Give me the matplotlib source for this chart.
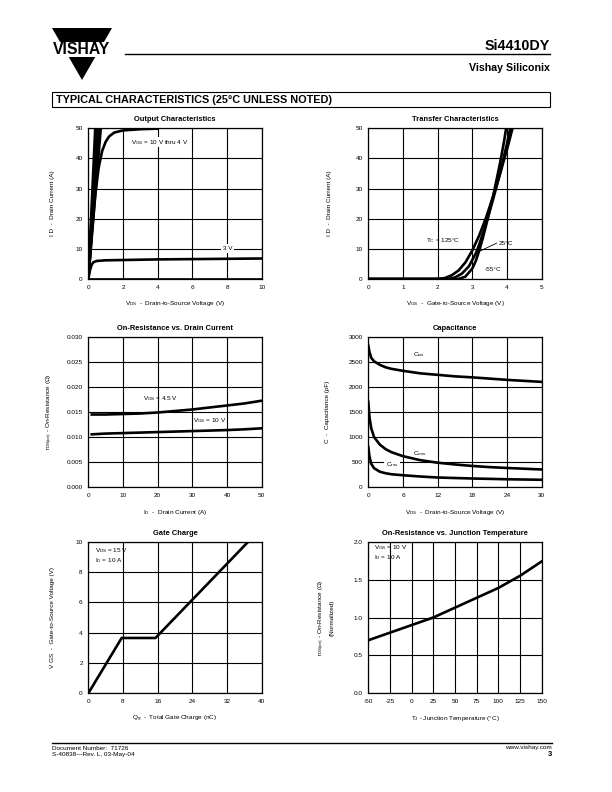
import matplotlib
matplotlib.use("Agg")
import matplotlib.pyplot as plt
from matplotlib import font_manager
from matplotlib.patches import Polygon, Rectangle

# ---------------- data ----------------
# Output characteristics
out_steep_x = [[0, 0.40], [0, 0.48], [0, 0.56], [0, 0.64], [0, 0.72]]
out_steep_y = [[0, 50], [0, 50], [0, 50], [0, 50], [0, 50]]
out_4v_x = [0, 0.2, 0.4, 0.6, 0.8, 1.0, 1.2, 1.5, 2.0, 3.0, 4.0]
out_4v_y = [0, 15, 28, 37, 42.5, 45.5, 47.3, 48.6, 49.3, 49.7, 49.9]
out_3v_x = [0, 0.1, 0.2, 0.3, 0.5, 1, 2, 4, 6, 8, 10]
out_3v_y = [0, 3.0, 4.8, 5.6, 6.0, 6.2, 6.3, 6.5, 6.6, 6.7, 6.8]
out_2v_x = [0, 10]
out_2v_y = [0.1, 0.1]

# Transfer characteristics
tr_125_x = [0, 2.0, 2.2, 2.4, 2.6, 2.8, 3.0, 3.2, 3.4, 3.6, 3.8, 4.0, 4.17]
tr_125_y = [0, 0, 0.3, 1.2, 2.8, 5.5, 9.5, 14.5, 20.5, 27.5, 35, 43, 50.5]
tr_25_x = [0, 2.3, 2.5, 2.7, 2.9, 3.1, 3.2, 3.4, 3.6, 3.8, 4.0, 4.1]
tr_25_y = [0, 0, 0.5, 1.8, 4.2, 8.5, 11.5, 18.5, 26.5, 35, 45, 50.5]
tr_m55_x = [0, 2.6, 2.8, 3.0, 3.1, 3.2, 3.3, 3.4, 3.6, 3.8, 3.92, 3.98]
tr_m55_y = [0, 0, 0.8, 3.5, 6.0, 9.5, 13.5, 18, 27.5, 38.5, 46, 50.5]

# On-resistance vs drain current
rd_x = [1, 5, 10, 15, 20, 25, 30, 35, 40, 45, 50]
rd_45 = [0.0145, 0.0145, 0.0146, 0.0147, 0.0149, 0.0152, 0.0155, 0.0159, 0.0163, 0.0167, 0.01725]
rd_10 = [0.01055, 0.0107, 0.0108, 0.0109, 0.0110, 0.0111, 0.0112, 0.0113, 0.0114, 0.01155, 0.01175]

# Capacitance
cap_v = [0, 0.2, 0.5, 1, 2, 3, 4, 6, 9, 12, 15, 18, 21, 24, 27, 30]
cap_ciss = [2820, 2700, 2580, 2510, 2440, 2390, 2360, 2320, 2270, 2240, 2210, 2190, 2165, 2140, 2120, 2100]
cap_coss = [1700, 1400, 1180, 1000, 850, 760, 700, 620, 540, 490, 455, 425, 402, 385, 370, 355]
cap_crss = [800, 620, 470, 380, 310, 280, 260, 240, 215, 195, 185, 175, 168, 160, 155, 150]

# Gate charge
gc_q = [0, 7.7, 15.5, 36.9]
gc_v = [0, 3.65, 3.65, 10]

# On-resistance vs junction temperature
tj_t = [-50, -25, 0, 25, 50, 75, 100, 125, 150]
tj_r = [0.70, 0.80, 0.90, 1.00, 1.13, 1.26, 1.39, 1.55, 1.74]

# ---------------- style ----------------
plt.rcParams['font.family'] = ['Liberation Sans', 'DejaVu Sans']
plt.rcParams['mathtext.fontset'] = 'custom'
plt.rcParams['mathtext.rm'] = 'Liberation Sans'
plt.rcParams['mathtext.it'] = 'Liberation Sans:italic'
plt.rcParams['mathtext.bf'] = 'Liberation Sans:bold'

try:
    font_manager.findfont(font_manager.FontProperties(family='Liberation Sans Narrow', weight='bold'),
                          fallback_to_default=False)
    NARROW = True
except Exception:
    NARROW = False
HFAM = 'Liberation Sans Narrow' if NARROW else 'Liberation Sans'
HSCALE = 1.0 if NARROW else 0.82

W, H = 612, 792
fig = plt.figure(figsize=(6.12, 7.92), dpi=100)

bg = fig.add_axes([0, 0, 1, 1])
bg.set_xlim(0, W)
bg.set_ylim(H, 0)
bg.axis('off')

RIGHT = 550

# logo
bg.add_patch(Polygon([[52, 28], [112, 28], [82, 80]], closed=True, color='black', lw=0))
bg.add_patch(Rectangle((50, 42), 64, 15, color='white', lw=0))
bg.text(82, 50, 'VISHAY', fontsize=11.3, fontweight='bold', ha='center', va='center')
bg.plot([125, RIGHT], [54, 54], color='black', lw=1.0)
bg.text(RIGHT, 49.5, 'Si4410DY', fontsize=12.5 * HSCALE, fontweight='bold', family=HFAM,
        ha='right', va='baseline')
bg.text(RIGHT, 71, 'Vishay Siliconix', fontsize=9.3 * HSCALE, fontweight='bold', family=HFAM,
        ha='right', va='baseline')
bg.add_patch(Rectangle((52, 92), RIGHT - 52, 15, fill=False, ec='black', lw=0.8))
bg.text(56, 99.8, 'TYPICAL CHARACTERISTICS (25°C UNLESS NOTED)', fontsize=7.8,
        fontweight='heavy', ha='left', va='center')
# footer
bg.plot([52, RIGHT + 2], [743, 743], color='black', lw=1.0)
bg.text(52, 748, 'Document Number:  71726', fontsize=4.6, ha='left', va='center')
bg.text(52, 754.5, 'S-40838—Rev. L, 03-May-04', fontsize=4.6, ha='left', va='center')
bg.text(RIGHT + 2, 748, 'www.vishay.com', fontsize=4.6, ha='right', va='center')
bg.text(RIGHT + 2, 755, '3', fontsize=5.5, fontweight='bold', ha='right', va='center')

L1, R1, L2, R2 = 88.3, 261.7, 368.3, 541.7
rows = [(128.3, 279.0), (336.7, 487.3), (541.7, 693.3)]


def ax_at(l, r, t, b):
    return fig.add_axes([l / W, 1 - b / H, (r - l) / W, (b - t) / H])


def style(ax, xlim, ylim, xticks, yticks, xlabels, ylabels, title, xlabel, ylabel, ylx):
    ax.set_xlim(xlim)
    ax.set_ylim(ylim)
    ax.set_xticks(xticks)
    ax.set_yticks(yticks)
    ax.set_xticklabels(xlabels)
    ax.set_yticklabels(ylabels)
    ax.grid(True, color='black', lw=0.8)
    ax.set_axisbelow(True)
    ax.tick_params(length=0, labelsize=4.6, pad=4)
    for s in ax.spines.values():
        s.set_linewidth(0.9)
    ax.set_title(title, fontsize=5.4, fontweight='bold', pad=5)
    ax.set_xlabel(xlabel, fontsize=4.6)
    ax.set_ylabel(ylabel, fontsize=4.6, linespacing=1.6)
    h = ax.get_position().height * H
    w = ax.get_position().width * W
    ax.xaxis.set_label_coords(0.5, -20.5 / h)
    ax.yaxis.set_label_coords(ylx / w, 0.5)


LW = 1.9
wbox = dict(facecolor='white', edgecolor='none', pad=0.6)

# 1. Output characteristics
ax1 = ax_at(L1, R1, *rows[0])
for xs, ys in zip(out_steep_x, out_steep_y):
    ax1.plot(xs, ys, color='black', lw=LW)
ax1.plot(out_4v_x, out_4v_y, color='black', lw=LW)
ax1.plot(out_3v_x, out_3v_y, color='black', lw=LW)
ax1.plot(out_2v_x, out_2v_y, color='black', lw=LW)
style(ax1, (0, 10), (0, 50), [0, 2, 4, 6, 8, 10], [0, 10, 20, 30, 40, 50],
      ['0', '2', '4', '6', '8', '10'], ['0', '10', '20', '30', '40', '50'],
      'Output Characteristics', r'V$_{\mathrm{DS}}$  -  Drain-to-Source Voltage (V)',
      r'I D  -  Drain Current (A)', -33)
ax1.text(2.45, 45.4, r'V$_{\mathrm{GS}}$ = 10 V thru 4 V', fontsize=4.6, va='center', bbox=wbox)
ax1.text(7.75, 10.2, '3 V', fontsize=4.6, va='center', bbox=dict(facecolor='white', edgecolor='none', pad=1.5))

# 2. Transfer characteristics
ax2 = ax_at(L2, R2, *rows[0])
ax2.plot(tr_125_x, tr_125_y, color='black', lw=LW)
ax2.plot(tr_25_x, tr_25_y, color='black', lw=LW)
ax2.plot(tr_m55_x, tr_m55_y, color='black', lw=LW)
style(ax2, (0, 5), (0, 50), [0, 1, 2, 3, 4, 5], [0, 10, 20, 30, 40, 50],
      ['0', '1', '2', '3', '4', '5'], ['0', '10', '20', '30', '40', '50'],
      'Transfer Characteristics', r'V$_{\mathrm{GS}}$  -  Gate-to-Source Voltage (V)',
      r'I D  -  Drain Current (A)', -36.5)
ax2.text(2.65, 12.7, r'T$_{\mathrm{C}}$ = 125°C', fontsize=4.6, va='center', ha='right')
ax2.plot([3.7, 3.17], [11.9, 9.0], color='black', lw=0.6)
ax2.text(3.76, 11.8, '25°C', fontsize=4.6, va='center', ha='left')
ax2.text(3.37, 3.2, '-55°C', fontsize=4.6, va='center', ha='left')

# 3. On-resistance vs drain current
ax3 = ax_at(L1, R1, *rows[1])
ax3.plot(rd_x, rd_45, color='black', lw=LW)
ax3.plot(rd_x, rd_10, color='black', lw=LW)
style(ax3, (0, 50), (0, 0.030), [0, 10, 20, 30, 40, 50],
      [0, 0.005, 0.010, 0.015, 0.020, 0.025, 0.030],
      ['0', '10', '20', '30', '40', '50'],
      ['0.000', '0.005', '0.010', '0.015', '0.020', '0.025', '0.030'],
      'On-Resistance vs. Drain Current', r'I$_{\mathrm{D}}$  -  Drain Current (A)',
      r'r$_{\mathrm{DS(on)}}$ - On-Resistance (Ω)', -33)
ax3.text(15.7, 0.0176, r'V$_{\mathrm{GS}}$ = 4.5 V', fontsize=4.6, va='center', ha='left')
ax3.text(30.3, 0.0132, r'V$_{\mathrm{GS}}$ = 10 V', fontsize=4.6, va='center', ha='left')

# 4. Capacitance
ax4 = ax_at(L2, R2, *rows[1])
ax4.plot(cap_v, cap_ciss, color='black', lw=LW)
ax4.plot(cap_v, cap_coss, color='black', lw=LW)
ax4.plot(cap_v, cap_crss, color='black', lw=LW)
style(ax4, (0, 30), (0, 3000), [0, 6, 12, 18, 24, 30], [0, 500, 1000, 1500, 2000, 2500, 3000],
      ['0', '6', '12', '18', '24', '30'], ['0', '500', '1000', '1500', '2000', '2500', '3000'],
      'Capacitance', r'V$_{\mathrm{DS}}$  -  Drain-to-Source Voltage (V)',
      r'C  -  Capacitance (pF)', -38)
ax4.text(7.8, 2640, r'C$_{\mathrm{iss}}$', fontsize=4.6, va='center', ha='left')
ax4.text(7.8, 680, r'C$_{\mathrm{oss}}$', fontsize=4.6, va='center', ha='left')
ax4.text(3.0, 447, r'C$_{\mathrm{rss}}$', fontsize=4.6, va='center', ha='left',
         bbox=dict(facecolor='white', edgecolor='none', pad=1.5))

# 5. Gate charge
ax5 = ax_at(L1, R1, *rows[2])
ax5.plot(gc_q, gc_v, color='black', lw=LW)
style(ax5, (0, 40), (0, 10), [0, 8, 16, 24, 32, 40], [0, 2, 4, 6, 8, 10],
      ['0', '8', '16', '24', '32', '40'], ['0', '2', '4', '6', '8', '10'],
      'Gate Charge', r'Q$_{\mathrm{g}}$  -  Total Gate Charge (nC)',
      r'V GS  -  Gate-to-Source Voltage (V)', -33)
ax5.text(1.5, 9.1, r'V$_{\mathrm{DS}}$ = 15 V' + '\n' + r'I$_{\mathrm{D}}$ = 10 A', fontsize=4.6,
         va='center', ha='left', linespacing=1.1)

# 6. On-resistance vs junction temperature
ax6 = ax_at(L2, R2, *rows[2])
ax6.plot(tj_t, tj_r, color='black', lw=LW)
style(ax6, (-50, 150), (0, 2.0), [-50, -25, 0, 25, 50, 75, 100, 125, 150],
      [0, 0.5, 1.0, 1.5, 2.0],
      ['-50', '-25', '0', '25', '50', '75', '100', '125', '150'],
      ['0.0', '0.5', '1.0', '1.5', '2.0'],
      'On-Resistance vs. Junction Temperature', r'T$_{\mathrm{J}}$ - Junction Temperature (°C)',
      r'r$_{\mathrm{DS(on)}}$ - On-Resistance (Ω)' + '\n' + '(Normalized)', -34)
ax6.text(-43, 1.86, r'V$_{\mathrm{GS}}$ = 10 V' + '\n' + r'I$_{\mathrm{D}}$ = 10 A', fontsize=4.6,
         va='center', ha='left', linespacing=1.1)

fig.savefig('out.png', dpi=100)
